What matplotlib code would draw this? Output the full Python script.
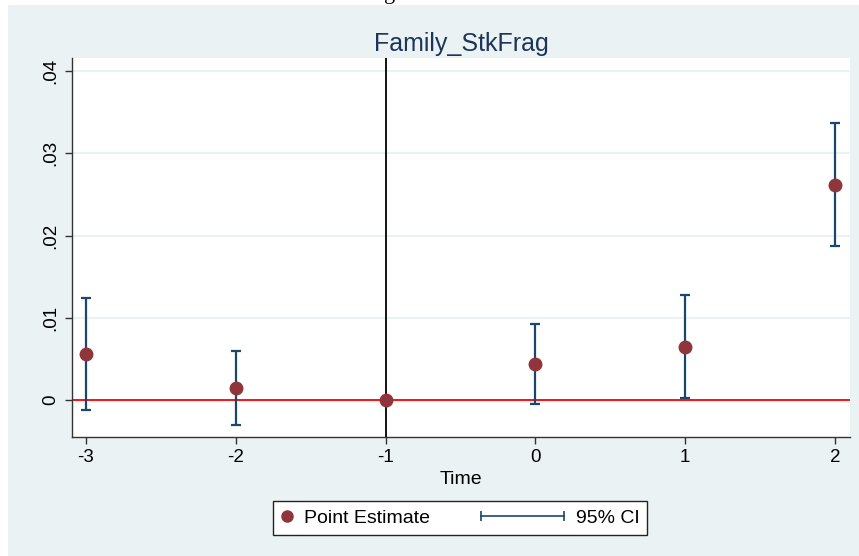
import numpy as np
import matplotlib
matplotlib.use("Agg")
import matplotlib.pyplot as plt
from matplotlib.lines import Line2D
from matplotlib.patches import Rectangle

plt.rcParams["font.family"] = ["Liberation Sans", "DejaVu Sans"]

# event time and estimates
TIME = [-3, -2, -1, 0, 1, 2]
ESTIMATE = [0.0056, 0.0015, 0.0, 0.0044, 0.0065, 0.0262]
CI_LOW = [-0.0012, -0.0030, np.nan, -0.0005, 0.0002, 0.0187]
CI_HIGH = [0.0124, 0.0060, np.nan, 0.0093, 0.0128, 0.0337]
YTICKS = [0, 0.01, 0.02, 0.03, 0.04]
YTICK_LABELS = ["0", ".01", ".02", ".03", ".04"]

BG = "#EAF2F3"
POINT_COLOR = "#90353B"
CI_COLOR = "#1A476F"
TITLE_COLOR = "#1E3559"
AXIS_COLOR = "#333333"


class CIHandler:
    # horizontal line with caps at both ends, reaching left of the handle box
    def legend_artist(self, legend, orig_handle, fontsize, handlebox):
        w = handlebox.width
        y = (handlebox.height - handlebox.ydescent) / 2
        x1 = w - handlebox.xdescent - 1.5
        x0 = x1 - 60
        line = Line2D([x0, x1], [y, y], color=CI_COLOR, lw=1.2,
                      marker="|", markersize=7, markeredgewidth=1.2)
        line.set_transform(handlebox.get_transform())
        handlebox.add_artist(line)
        return line


fig = plt.figure(figsize=(8.59, 5.56), dpi=100)
fig.patch.set_facecolor("white")
bg = Rectangle((8 / 859, 0), 1, 1 - 5 / 556, transform=fig.transFigure,
               facecolor=BG, edgecolor="none", zorder=-10)
fig.add_artist(bg)
fig.text(390 / 859, 1 + 1 / 556, "g", family="Liberation Serif", fontsize=16,
         ha="center", va="baseline", color="black")

ax = fig.add_axes([72 / 859, 1 - 437 / 556, 778 / 859, 379 / 556])
ax.set_zorder(1)
ax.set_facecolor("white")

t = np.array(TIME, dtype=float)
est = np.array(ESTIMATE)
lo = np.array(CI_LOW)
hi = np.array(CI_HIGH)
ok = ~np.isnan(lo)

for yv in YTICKS:
    ax.axhline(yv, color=BG, lw=1.5, zorder=1)
ax.axhline(0, color="red", lw=1.3, zorder=2)
ax.axvline(-1, color="black", lw=1.3, zorder=2)

ax.errorbar(t[ok], (lo[ok] + hi[ok]) / 2, yerr=(hi[ok] - lo[ok]) / 2, fmt="none",
            ecolor=CI_COLOR, elinewidth=1.6, capsize=3.6, capthick=1.6, zorder=3)
ax.plot(t, est, "o", color=POINT_COLOR, markersize=9, zorder=4)

ax.set_xlim(-3.093, 2.1)
ax.set_ylim(-0.0045, 0.0416)
ax.set_xticks(TIME)
ax.set_xticklabels([str(v) for v in TIME])
ax.set_yticks(YTICKS)
ax.set_yticklabels(YTICK_LABELS, rotation=90, va="center")

for side in ["top", "right"]:
    ax.spines[side].set_visible(False)
for side in ["left", "bottom"]:
    ax.spines[side].set_color(AXIS_COLOR)
    ax.spines[side].set_linewidth(1.0)
ax.tick_params(axis="both", length=5, width=1.0, color=AXIS_COLOR, labelsize=13.5,
               labelcolor="black", pad=4)

ax.set_xlabel("Time", fontsize=14, labelpad=3)
ax.set_title("Family_StkFrag", fontsize=18, color=TITLE_COLOR, pad=5)

pe = Line2D([], [], linestyle="none", marker="o", color=POINT_COLOR, markersize=8)
ci = Line2D([], [], color=CI_COLOR)
leg = fig.legend([pe, ci], ["Point Estimate", "95% CI"], ncol=2, loc="center",
                 bbox_to_anchor=(460 / 859, 1 - 518 / 556), fontsize=14,
                 handlelength=0.7, handletextpad=0.5, columnspacing=6.3,
                 fancybox=False, framealpha=1, edgecolor="#222222",
                 handler_map={ci: CIHandler()}, borderpad=0.4)
leg.get_frame().set_linewidth(1.0)

fig.savefig("out.png", dpi=100)
